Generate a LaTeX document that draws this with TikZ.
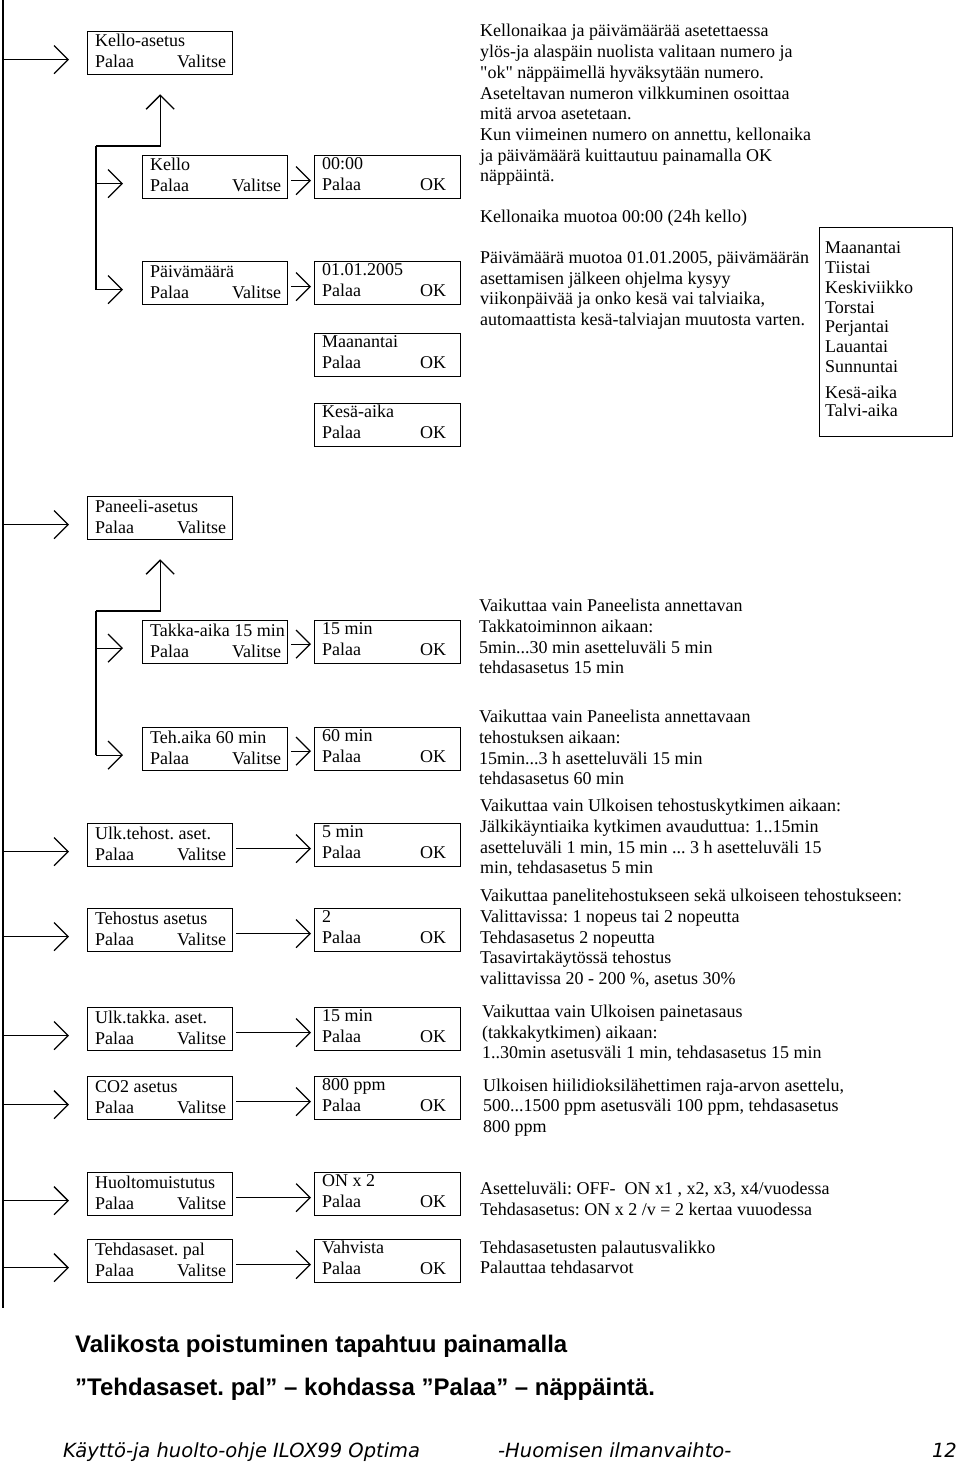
\documentclass[tikz,border=0pt]{standalone}
\usepackage{fontspec}
\setmainfont{Liberation Serif}
\newfontfamily\boldsans{Liberation Sans}
\newfontfamily\footfont{DejaVu Sans}
\usetikzlibrary{arrows.meta}
\frenchspacing
\tikzset{
  menubox/.style={draw, line width=1.3pt, rectangle, minimum height=43pt, anchor=north west, inner sep=0pt},
  lbl/.style={inner sep=0pt, font=\fontsize{18}{20.7}\selectfont},
  conn/.style={line width=1.3pt},
  arr/.style={conn, -{Straight Barb[length=14pt,width=28pt]}},
}
% name, x, y, title, right word, right inset, width, title baseline
\newcommand\menubx[8]{%
  \node[menubox, minimum width=#7pt] (#1) at (#2,#3) {};
  \node[lbl, anchor=base west] (#1-t) at ([xshift=8pt,yshift=-#8pt]#1.north west) {#4};
  \node[lbl, anchor=base west] (#1-l) at ([xshift=8pt,yshift=-#8pt-21pt]#1.north west) {Palaa};
  \node[lbl, anchor=base east] (#1-r) at ([xshift=-#6pt,yshift=-#8pt-21pt]#1.north east) {#5};
}
% name, x, y(baseline of first line), skip, text
\newcommand\txtblock[5]{%
  \node[anchor=base west, inner sep=0pt] (#1) at (#2,#3)
    {\parbox[t]{470pt}{\raggedright\frenchspacing\fontsize{18}{#4}\selectfont #5}};
}
\begin{document}
\begin{tikzpicture}[x=1pt, y=-1pt]
\useasboundingbox (0,0) rectangle (960,1463);

% main line
\coordinate (mt) at (3,0);
\coordinate (mb) at (3,1308);
\draw[line width=2pt] (mt) -- (mb);

% ---------- section 1 ----------
\menubx{ka}{87}{31}{Kello-asetus}{Valitse}{7}{145}{16}
\menubx{kl}{142}{155}{Kello}{Valitse}{7}{145}{16}
\menubx{kc}{314}{155}{00:00}{OK}{15}{146}{14.5}
\menubx{pv}{142}{261}{Päivämäärä}{Valitse}{7}{145}{16}
\menubx{pc}{314}{261}{01.01.2005}{OK}{15}{146}{14.5}
\menubx{mc}{314}{333}{Maanantai}{OK}{15}{146}{14.5}
\menubx{ks}{314}{403}{Kesä-aika}{OK}{15}{146}{14.5}

\draw[arr, shorten >=18pt] ([yshift=-6.5pt]ka.west -| mt) -- ([yshift=-6.5pt]ka.west);
\coordinate (j1) at (96,146);
\draw[arr, shorten >=19pt] (j1) -| (ka.south);
\draw[conn] (j1) -- ([yshift=-6.5pt]pv.west -| j1);
\draw[arr, shorten >=19pt] ([yshift=-6.5pt]kl.west -| j1) -- ([yshift=-6.5pt]kl.west);
\draw[arr, shorten >=19pt] ([yshift=-6.5pt]pv.west -| j1) -- ([yshift=-6.5pt]pv.west);
\draw[arr, shorten <=3pt, shorten >=3pt] ([yshift=-3.5pt]kl.east) -- ([yshift=-3.5pt]kc.west);
\draw[arr, shorten <=3pt, shorten >=3pt] ([yshift=-3.5pt]pv.east) -- ([yshift=-3.5pt]pc.west);

\txtblock{d1}{480}{37}{20.7}{Kellonaikaa ja päivämäärää asetettaessa\\
ylös-ja alaspäin nuolista valitaan numero ja\\
\textquotedbl ok\textquotedbl\ näppäimellä hyväksytään numero.\\
Aseteltavan numeron vilkkuminen osoittaa\\
mitä arvoa asetetaan.\\
Kun viimeinen numero on annettu, kellonaika\\
ja päivämäärä kuittautuu painamalla OK\\
näppäintä.}
\txtblock{d2}{480}{222.7}{20.7}{Kellonaika muotoa 00:00 (24h kello)}
\txtblock{d3}{480}{263.3}{20.7}{Päivämäärä muotoa 01.01.2005, päivämäärän\\
asettamisen jälkeen ohjelma kysyy\\
viikonpäivää ja onko kesä vai talviaika,\\
automaattista kesä-talviajan muutosta varten.}

\node[draw, line width=1pt, minimum width=133pt, minimum height=209pt, anchor=north west, inner sep=0pt] (days) at (819,227) {};
\txtblock{dl}{825}{254}{19.7}{Maanantai\\Tiistai\\Keskiviikko\\Torstai\\Perjantai\\Lauantai\\Sunnuntai}
\txtblock{sl}{825}{398}{18}{Kesä-aika\\Talvi-aika}

% ---------- section 2 ----------
\menubx{pa}{87}{496}{Paneeli-asetus}{Valitse}{7}{145}{16}
\menubx{ta}{142}{620}{Takka-aika 15 min}{Valitse}{7}{145}{16}
\menubx{tc}{314}{620}{15 min}{OK}{15}{146}{14.5}
\menubx{te}{142}{727}{Teh.aika 60 min}{Valitse}{7}{145}{16}
\menubx{tec}{314}{727}{60 min}{OK}{15}{146}{14.5}

\draw[arr, shorten >=18pt] ([yshift=-6.5pt]pa.west -| mt) -- ([yshift=-6.5pt]pa.west);
\coordinate (j2) at (96,611);
\draw[arr, shorten >=19pt] (j2) -| (pa.south);
\draw[conn] (j2) -- ([yshift=-6pt]te.west -| j2);
\draw[arr, shorten >=19pt] ([yshift=-6pt]ta.west -| j2) -- ([yshift=-6pt]ta.west);
\draw[arr, shorten >=19pt] ([yshift=-6pt]te.west -| j2) -- ([yshift=-6pt]te.west);
\draw[arr, shorten <=3pt, shorten >=3pt] ([yshift=-2pt]ta.east) -- ([yshift=-2pt]tc.west);
\draw[arr, shorten <=3pt, shorten >=3pt] ([yshift=-2pt]te.east) -- ([yshift=-2pt]tec.west);

\txtblock{d4}{479}{611.7}{20.7}{Vaikuttaa vain Paneelista annettavan\\
Takkatoiminnon aikaan:\\
5min...30 min asetteluväli 5 min\\
tehdasasetus 15 min}
\txtblock{d5}{479}{722.7}{20.7}{Vaikuttaa vain Paneelista annettavaan\\
tehostuksen aikaan:\\
15min...3 h asetteluväli 15 min\\
tehdasasetus 60 min}

% ---------- section 3 ----------
\menubx{ut}{87}{823}{Ulk.tehost. aset.}{Valitse}{7}{145}{16}
\menubx{utc}{314}{823}{5 min}{OK}{15}{146}{14.5}
\menubx{th}{87}{908}{Tehostus asetus}{Valitse}{7}{145}{16}
\menubx{thc}{314}{908}{2}{OK}{15}{146}{14.5}
\menubx{uk}{87}{1007}{Ulk.takka. aset.}{Valitse}{7}{145}{16}
\menubx{ukc}{314}{1007}{15 min}{OK}{15}{146}{14.5}
\menubx{co}{87}{1076}{CO2 asetus}{Valitse}{7}{145}{16}
\menubx{coc}{314}{1076}{800 ppm}{OK}{15}{146}{14.5}
\menubx{hu}{87}{1172}{Huoltomuistutus}{Valitse}{7}{145}{16}
\menubx{huc}{314}{1172}{ON x 2}{OK}{15}{146}{14.5}
\menubx{td}{87}{1239}{Tehdasaset. pal}{Valitse}{7}{145}{16}
\menubx{tdc}{314}{1239}{Vahvista}{OK}{15}{146}{14.5}

\foreach \b in {ut,th,uk,co,hu,td}{
  \draw[arr, shorten >=18pt] ([yshift=-6.5pt]\b.west -| mt) -- ([yshift=-6.5pt]\b.west);
  \draw[arr, shorten <=3pt, shorten >=3pt] ([yshift=-3.5pt]\b.east) -- ([yshift=-3.5pt]\b c.west);
}

\txtblock{d6}{480}{811.7}{20.7}{Vaikuttaa vain Ulkoisen tehostuskytkimen aikaan:\\
Jälkikäyntiaika kytkimen avauduttua: 1..15min\\
asetteluväli 1 min, 15 min ... 3 h asetteluväli 15\\
min, tehdasasetus 5 min}
\txtblock{d7}{480}{901.7}{20.7}{Vaikuttaa panelitehostukseen sekä ulkoiseen tehostukseen:\\
Valittavissa: 1 nopeus tai 2 nopeutta\\
Tehdasasetus 2 nopeutta\\
Tasavirtakäytössä tehostus\\
valittavissa 20 - 200 \%, asetus 30\%}
\txtblock{d8}{482}{1017.3}{20.7}{Vaikuttaa vain Ulkoisen painetasaus\\
(takkakytkimen) aikaan:\\
1..30min asetusväli 1 min, tehdasasetus 15 min}
\txtblock{d9}{483}{1091}{20.7}{Ulkoisen hiilidioksilähettimen raja-arvon asettelu,\\
500...1500 ppm asetusväli 100 ppm, tehdasasetus\\
800 ppm}
\txtblock{d10}{480}{1194.3}{20.7}{Asetteluväli: OFF-\ \ ON x1 , x2, x3, x4/vuodessa\\
Tehdasasetus: ON x 2 /v = 2 kertaa vuuodessa}
\txtblock{d11}{480}{1253.3}{20}{Tehdasasetusten palautusvalikko\\
Palauttaa tehdasarvot}

% ---------- bottom ----------
\node[anchor=base west, inner sep=0pt, font=\boldsans\bfseries\fontsize{24}{28}\selectfont] (n1) at (75,1352.3) {Valikosta poistuminen tapahtuu painamalla};
\node[anchor=base west, inner sep=0pt, font=\boldsans\bfseries\fontsize{24}{28}\selectfont] (n2) at (75,1395) {”Tehdasaset. pal” – kohdassa ”Palaa” – näppäintä.};

\node[anchor=base west, inner sep=0pt, font=\footfont\itshape\fontsize{19.5}{22}\selectfont] (f1) at (63,1457) {Käyttö-ja huolto-ohje ILOX99 Optima};
\node[anchor=base west, inner sep=0pt, font=\footfont\itshape\fontsize{19.5}{22}\selectfont] (f2) at (498,1457) {-Huomisen ilmanvaihto-};
\node[anchor=base east, inner sep=0pt, font=\footfont\itshape\fontsize{19.5}{22}\selectfont] (f3) at (957,1457) {12};
\end{tikzpicture}
\end{document}
